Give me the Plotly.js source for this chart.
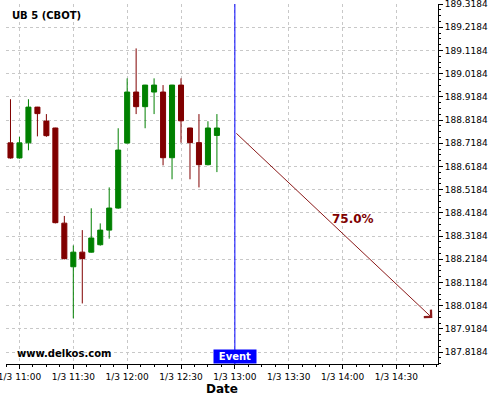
<!DOCTYPE html>
<html>
<head>
<meta charset="utf-8">
<script src="https://cdn.plot.ly/plotly-3.0.1.min.js"></script>
<style>html,body{margin:0;padding:0;background:#fff;}#chart{width:500px;height:400px;}</style>
</head>
<body>
<div id="chart"></div>
<script>
const times = ['2024-01-03 10:55','2024-01-03 11:00','2024-01-03 11:05','2024-01-03 11:10','2024-01-03 11:15','2024-01-03 11:20','2024-01-03 11:25','2024-01-03 11:30','2024-01-03 11:35','2024-01-03 11:40','2024-01-03 11:45','2024-01-03 11:50','2024-01-03 11:55','2024-01-03 12:00','2024-01-03 12:05','2024-01-03 12:10','2024-01-03 12:15','2024-01-03 12:20','2024-01-03 12:25','2024-01-03 12:30','2024-01-03 12:35','2024-01-03 12:40','2024-01-03 12:45','2024-01-03 12:50'];
const openV  = [188.720,188.655,188.720,188.874,188.814,188.784,188.374,188.186,188.249,188.249,188.281,188.344,188.439,188.719,188.939,188.876,188.939,188.939,188.656,188.969,188.784,188.721,188.626,188.752];
const highV  = [188.908,188.746,188.908,188.875,188.844,188.785,188.405,188.278,188.344,188.438,188.373,188.528,188.783,188.998,189.127,188.970,188.998,188.969,188.970,188.998,188.785,188.844,188.813,188.844];
const lowV   = [188.652,188.652,188.688,188.748,188.746,188.373,188.218,187.964,188.028,188.247,188.277,188.307,188.436,188.718,188.844,188.783,188.844,188.623,188.563,188.721,188.563,188.528,188.623,188.594];
const closeV = [188.655,188.720,188.874,188.846,188.751,188.376,188.221,188.249,188.221,188.310,188.344,188.439,188.689,188.939,188.876,188.969,188.969,188.656,188.969,188.815,188.721,188.626,188.784,188.784];

const eventTime = '2024-01-03 13:00';
const arrowStart = ['2024-01-03 13:00', 188.767];
const arrowEnd = ['2024-01-03 14:50', 187.965];
const pctLabel = ['2024-01-03 14:06', 188.392, '75.0%'];
const yTickValues = [187.8184,187.9184,188.0184,188.1184,188.2184,188.3184,188.4184,188.5184,188.6184,188.7184,188.8184,188.9184,189.0184,189.1184,189.2184,189.3184];
const xTickValues = ['2024-01-03 11:00','2024-01-03 11:30','2024-01-03 12:00','2024-01-03 12:30','2024-01-03 13:00','2024-01-03 13:30','2024-01-03 14:00','2024-01-03 14:30'];
const xTickLabels = ['1/3 11:00','1/3 11:30','1/3 12:00','1/3 12:30','1/3 13:00','1/3 13:30','1/3 14:00','1/3 14:30'];

const trace = {
  type: 'candlestick',
  x: times, open: openV, high: highV, low: lowV, close: closeV,
  increasing: {line: {color: '#008000', width: 1}, fillcolor: '#008000'},
  decreasing: {line: {color: '#800000', width: 1}, fillcolor: '#800000'},
  whiskerwidth: 0,
  hoverinfo: 'skip',
  showlegend: false
};

const font = 'DejaVu Sans, sans-serif';
const layout = {
  width: 500, height: 400,
  margin: {l: 6, r: 62, t: 4, b: 36},
  paper_bgcolor: '#ffffff', plot_bgcolor: '#ffffff',
  font: {family: font, size: 9, color: '#000'},
  showlegend: false,
  boxgap: 0.2,
  xaxis: {
    type: 'date',
    range: ['2024-01-03 10:52:30', '2024-01-03 14:53:10'],
    rangeslider: {visible: false},
    tickmode: 'array', tickvals: xTickValues, ticktext: xTickLabels,
    ticklabeloverflow: 'allow',
    ticks: 'outside', ticklen: 4, tickcolor: '#000',
    showline: true, linecolor: '#000', linewidth: 1,
    showgrid: true, gridcolor: '#c8c8c8', griddash: '3px,3px', gridwidth: 1,
    minor: {dtick: 450000, tick0: '2024-01-03 11:00', ticks: 'outside', ticklen: 2, tickcolor: '#000', showgrid: false},
    zeroline: false,
    tickfont: {family: font, size: 9, color: '#000'},
    title: {text: '<b>Date</b>', font: {family: font, size: 12, color: '#000'}, standoff: 2},
    fixedrange: true
  },
  yaxis: {
    side: 'right',
    range: [187.767, 189.3184],
    tickmode: 'array', tickvals: yTickValues, tickformat: '.4f',
    ticklabeloverflow: 'allow',
    ticks: 'outside', ticklen: 4, tickcolor: '#000',
    showline: true, linecolor: '#000', linewidth: 1,
    showgrid: true, gridcolor: '#c8c8c8', griddash: '3px,3px', gridwidth: 1,
    minor: {dtick: 0.025, tick0: 187.8184, ticks: 'outside', ticklen: 2, tickcolor: '#000', showgrid: false},
    zeroline: false,
    tickfont: {family: font, size: 9, color: '#000'},
    fixedrange: true
  },
  shapes: [
    {type: 'line', xref: 'x', yref: 'paper', x0: eventTime, x1: eventTime, y0: 0, y1: 1,
     line: {color: '#0000ff', width: 1}}
  ],
  annotations: [
    {xref: 'paper', yref: 'paper', x: 0.009, y: 0.969, xanchor: 'left', yanchor: 'middle',
     text: '<b>UB 5 (CBOT)</b>', showarrow: false, font: {family: font, size: 10, color: '#000'}},
    {xref: 'paper', yref: 'paper', x: 0.021, y: 0.028, xanchor: 'left', yanchor: 'middle',
     text: '<b>www.delkos.com</b>', showarrow: false, font: {family: font, size: 10, color: '#000'}},
    {xref: 'x', yref: 'paper', x: eventTime, y: 0, xanchor: 'center', yanchor: 'bottom',
     text: '<b>Event</b>', showarrow: false, bgcolor: '#0000ff', borderpad: 1, width: 40,
     font: {family: font, size: 10, color: '#ffffff'}},
    {xref: 'x', yref: 'y', axref: 'x', ayref: 'y',
     x: arrowEnd[0], y: arrowEnd[1], ax: arrowStart[0], ay: arrowStart[1],
     text: '', showarrow: true, arrowhead: 4, arrowsize: 2, arrowwidth: 1, arrowcolor: '#8b1a1a'},
    {xref: 'x', yref: 'y', x: pctLabel[0], y: pctLabel[1], text: '<b>' + pctLabel[2] + '</b>',
     showarrow: false, font: {family: font, size: 12, color: '#800000'}}
  ]
};

Plotly.newPlot('chart', [trace], layout, {displayModeBar: false, staticPlot: true});
</script>
</body>
</html>
